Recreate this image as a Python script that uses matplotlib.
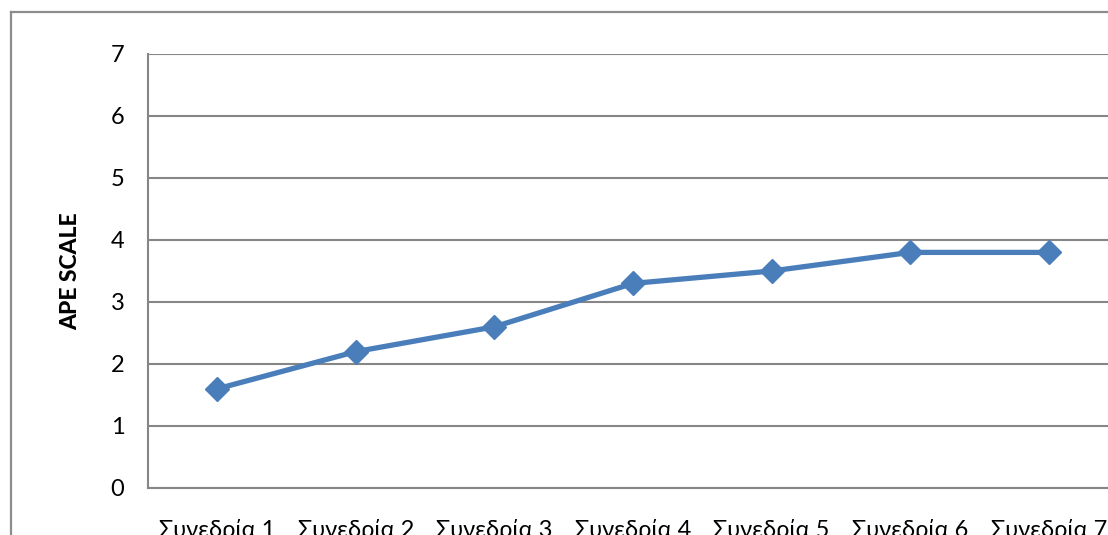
import matplotlib
matplotlib.use("Agg")
import matplotlib.pyplot as plt
from matplotlib.lines import Line2D

sessions = ["Συνεδρία 1", "Συνεδρία 2", "Συνεδρία 3", "Συνεδρία 4",
            "Συνεδρία 5", "Συνεδρία 6", "Συνεδρία 7"]
ape_scores = [1.6, 2.2, 2.6, 3.3, 3.5, 3.8, 3.8]
y_ticks = [0, 1, 2, 3, 4, 5, 6, 7]

plt.rcParams['font.family'] = ['Lato', 'Open Sans', 'DejaVu Sans']

W, H = 1108, 535
fig = plt.figure(figsize=(W / 100, H / 100), dpi=100)
fig.patch.set_facecolor("white")

# outer chart frame (left and top edges visible)
frame_color = "#8c8c8c"
fig.add_artist(Line2D([11 / W, 11 / W], [0, 1 - 12 / H], transform=fig.transFigure,
                      color=frame_color, lw=1.6))
fig.add_artist(Line2D([11 / W, 1.0], [1 - 12 / H, 1 - 12 / H], transform=fig.transFigure,
                      color=frame_color, lw=1.6))

left, right, top, bottom = 148, 1118, 54, 488
ax = fig.add_axes([left / W, 1 - bottom / H, (right - left) / W, (bottom - top) / H])

x = list(range(len(sessions)))
ax.plot(x, ape_scores, color="#4a7ebb", lw=3.8, marker="D", markersize=12,
        markerfacecolor="#4a7ebb", markeredgecolor="#4a7ebb", zorder=3,
        solid_joinstyle="round")

ax.set_xlim(-0.5, len(sessions) - 0.5)
ax.set_ylim(0, 7)
ax.set_yticks(y_ticks)
ax.set_yticklabels([str(t) for t in y_ticks])
ax.set_xticks(x)
ax.set_xticklabels(sessions)

grid_color = "#868686"
ax.yaxis.grid(True, color=grid_color, lw=1.5)
ax.set_axisbelow(True)
for s in ["top", "right"]:
    ax.spines[s].set_visible(False)
ax.spines["left"].set_color(grid_color)
ax.spines["left"].set_linewidth(1.5)
ax.spines["bottom"].set_color(grid_color)
ax.spines["bottom"].set_linewidth(1.5)

ax.tick_params(axis="y", length=0, pad=17, labelsize=17, colors="black")
ax.tick_params(axis="x", length=0, pad=22, labelsize=17, colors="black")

ax.set_ylabel("APE SCALE", fontsize=16.5, fontweight="black", labelpad=21)

fig.savefig("out.png", dpi=100, facecolor="white")
